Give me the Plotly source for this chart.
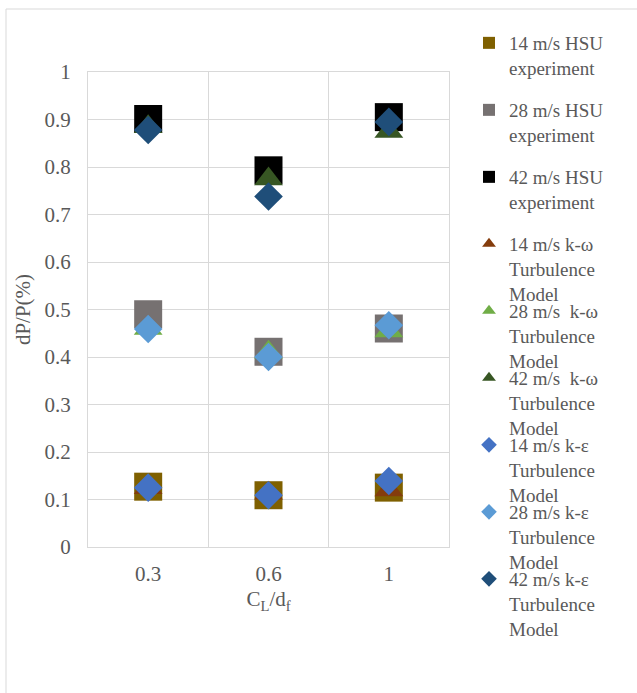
import plotly.graph_objects as go

categories = ["0.3", "0.6", "1"]

exp14 = [0.127, 0.109, 0.125]
exp28 = [0.49, 0.411, 0.46]
exp42 = [0.901, 0.793, 0.905]
kw14 = [0.125, 0.113, 0.12]
kw28 = [0.46, 0.41, 0.455]
kw42 = [0.885, 0.775, 0.875]
ke14 = [0.125, 0.109, 0.139]
ke28 = [0.459, 0.40, 0.467]
ke42 = [0.878, 0.738, 0.895]

names = [
    "14 m/s HSU<br>experiment",
    "28 m/s HSU<br>experiment",
    "42 m/s HSU<br>experiment",
    "14 m/s k-ω<br>Turbulence<br>Model",
    "28 m/s  k-ω<br>Turbulence<br>Model",
    "42 m/s  k-ω<br>Turbulence<br>Model",
    "14 m/s k-ε<br>Turbulence<br>Model",
    "28 m/s k-ε<br>Turbulence<br>Model",
    "42 m/s k-ε<br>Turbulence<br>Model",
]
series = [exp14, exp28, exp42, kw14, kw28, kw42, ke14, ke28, ke42]
colors = ["#7F6000", "#767171", "#000000",
          "#843C0C", "#70AD47", "#375623",
          "#4472C4", "#5B9BD5", "#1F4E79"]
symbols = ["square"] * 3 + ["triangle-up"] * 3 + ["diamond"] * 3
sizes = [28] * 3 + [25] * 3 + [22] * 3

font_col = "#595959"
FAM = "Liberation Serif"
L, R, T, B = 88, 449, 72, 547
W, H = 637, 693
pw, ph = R - L, B - T


def px(x):
    return (x - L) / pw


def py(y):
    return (B - y) / ph


fig = go.Figure()
legends = {}
for i, (nm, ys, c, s, sz) in enumerate(zip(names, series, colors, symbols, sizes)):
    key = "legend" if i == 0 else f"legend{i + 1}"
    fig.add_trace(go.Scatter(
        x=categories, y=ys, mode="markers", name=nm,
        legend=key,
        marker=dict(symbol=s, size=sz, color=c, line=dict(width=0)),
    ))
    first_line_center = 42 + 67 * i
    legends[key] = dict(
        x=px(469), y=py(first_line_center - 18), xanchor="left", yanchor="top",
        font=dict(family=FAM, size=19, color=font_col),
        itemsizing="constant", valign="top",
        bgcolor="rgba(0,0,0,0)", borderwidth=0,
    )

fig.update_layout(
    width=W, height=H,
    margin=dict(l=L, r=W - R, t=T, b=H - B, autoexpand=False),
    paper_bgcolor="white", plot_bgcolor="white",
    font=dict(family=FAM, size=21, color=font_col),
    showlegend=True,
    xaxis=dict(
        type="category", tickson="boundaries", showgrid=True,
        gridcolor="#d9d9d9", gridwidth=1, ticks="",
        showline=True, mirror=True, linecolor="#d9d9d9", linewidth=1,
        title=dict(text="C<sub>L</sub>/d<sub>f</sub>", standoff=6,
                   font=dict(family=FAM, size=21, color=font_col)),
        tickfont=dict(family=FAM, size=21, color=font_col),
        ticklabelstandoff=8,
        range=[-0.5, 2.5],
    ),
    yaxis=dict(
        range=[0, 1], showgrid=True,
        gridcolor="#d9d9d9", gridwidth=1, zeroline=False,
        showline=True, mirror=True, linecolor="#d9d9d9", linewidth=1,
        ticks="", ticklabelstandoff=12,
        title=dict(text="dP/P(%)", standoff=8,
                   font=dict(family=FAM, size=21, color=font_col)),
        tickfont=dict(family=FAM, size=21, color=font_col),
        tickvals=[0, 0.1, 0.2, 0.3, 0.4, 0.5, 0.6, 0.7, 0.8, 0.9, 1],
        ticktext=["0", "0.1", "0.2", "0.3", "0.4", "0.5", "0.6", "0.7", "0.8", "0.9", "1"],
    ),
    shapes=[dict(
        type="rect", xref="paper", yref="paper",
        x0=px(6), x1=px(720), y0=py(720), y1=py(9),
        line=dict(color="#d9d9d9", width=1), fillcolor="rgba(0,0,0,0)",
        layer="below",
    )],
    **legends,
)

fig.write_html("out.html", config={"displayModeBar": False},
               post_script="document.body.style.margin='0px';")
